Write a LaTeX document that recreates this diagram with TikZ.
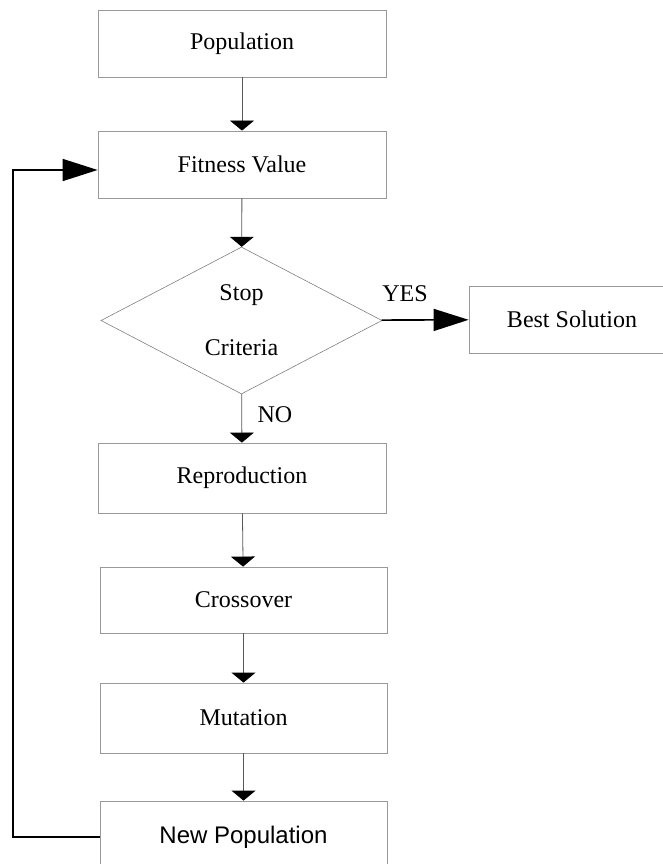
\documentclass[tikz,border=0pt]{standalone}
\usepackage{fontspec}
\setmainfont{Liberation Serif}
\newfontfamily\arialfont{Liberation Sans}
\usetikzlibrary{shapes.geometric,arrows.meta}
\begin{document}
\begin{tikzpicture}[x=1pt, y=-1pt, font=\fontsize{24}{29}\selectfont,
        box/.style = {draw=gray!80, line width=0.8pt, minimum width=288pt, minimum height=67pt, inner sep=0pt},
        down/.style = {draw=gray!70!black, line width=0.8pt, -{Triangle[width=24pt,length=10pt,color=black]}},
        big/.style = {line width=1.6pt, -{Triangle[width=22pt,length=35pt]}}]
                \useasboundingbox (0,0) rectangle (663,864);
                \node[box] (pop) at (242,43.5) {Population};
                \node[box] (fit) at (242,164.5) {Fitness Value};
                \node[draw=gray, line width=0.6pt, diamond, aspect=1.91, minimum width=281pt, minimum height=147pt, inner sep=0pt, align=center] (stop) at (241.5,320.5) {Stop\\[26pt]Criteria};
                \node[box, minimum width=206pt] (best) at (572,319.5) {Best Solution};
                \node[box, minimum height=70pt] (rep) at (242,478) {Reproduction};
                \node[box, minimum width=287pt, minimum height=66pt] (cross) at (243.5,600) {Crossover};
                \node[box, minimum width=287pt, minimum height=70pt] (mut) at (243.5,718) {Mutation};
                \node[box, minimum width=287pt, minimum height=72pt] (newpop) at (243.5,837) {\arialfont New Population};
                \coordinate (back) at (13,170);
                \draw[down] (pop) -- (fit);
                \draw[down] (fit) -- (stop);
                \draw[down] (stop) -- node[pos=0.43, right, xshift=12pt] {NO} (rep);
                \draw[down] (rep) -- (cross);
                \draw[down] (cross) -- (mut);
                \draw[down] (mut) -- (newpop);
                \draw[big] (stop) -- node[pos=0.27, above, yshift=14pt] {YES} (best);
                \draw[big] (newpop.west) -| (back) -- (back -| fit.west);
            \end{tikzpicture}
\end{document}
